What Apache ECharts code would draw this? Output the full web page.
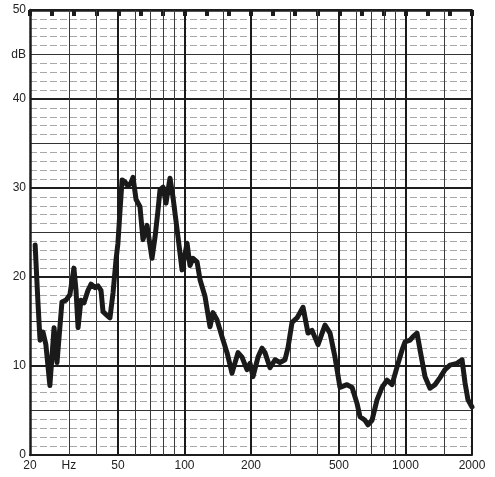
<!DOCTYPE html>
<html>
<head>
<meta charset="utf-8">
<script src="https://cdn.jsdelivr.net/npm/echarts@6/dist/echarts.min.js"></script>
<style>
  html, body { margin: 0; padding: 0; background: #fff; }
  #chart { width: 495px; height: 477px; }
</style>
</head>
<body>
<div id="chart"></div>
<script>
// Frequency (Hz) of each traced point of the response curve
const freqHz = [
  21.1, 21.7, 22.2, 22.9, 23.6, 24.6, 25.7, 26.5, 27.9, 29.1,
  30.3, 31.6, 32.3, 33.0, 34.0, 35.1, 36.6, 37.8, 39.4, 40.6,
  41.9, 42.8, 44.6, 46.0, 47.5, 49.0, 50.0, 51.1, 52.2, 53.8,
  55.5, 57.3, 58.5, 60.4, 62.9, 64.9, 67.7, 71.3, 73.6, 75.9,
  77.5, 80.0, 82.5, 86.0, 88.7, 93.5, 97.5, 102.7, 105.9, 109.3,
  114.0, 117.6, 123.9, 130.5, 134.6, 140.3, 147.8, 155.8, 164.1, 174.7,
  182.1, 191.8, 198, 204.2, 215.2, 224.3, 231.4, 243.8, 257, 270.4,
  285, 294.2, 306.7, 323, 343.9, 362.2, 377.6, 402, 432.4, 455.6,
  479.8, 505.3, 543.8, 573, 603.6, 622.7, 656, 676.8, 705.5, 743.4,
  783.3, 825.3, 869.5, 916, 965.3, 995.6, 1049, 1082, 1128, 1164,
  1226, 1291, 1360, 1433, 1510, 1590, 1711, 1803, 1860, 1918, 2000
];
// Level (dB) at each of those frequencies
const levelDb = [
  23.6, 17.4, 12.9, 13.8, 12.4, 7.8, 14.3, 10.4, 17.2, 17.4,
  18.0, 21.0, 18.5, 14.3, 17.4, 17.1, 18.5, 19.2, 18.8, 19.0,
  18.5, 16.1, 15.7, 15.4, 18.2, 21.9, 23.8, 27.5, 30.9, 30.7,
  30.2, 30.6, 31.2, 28.7, 27.9, 24.2, 25.8, 22.1, 24.5, 27.5,
  29.8, 30.1, 28.3, 31.1, 29.0, 24.5, 20.8, 23.8, 21.3, 22.1,
  21.7, 19.7, 17.8, 14.4, 16.0, 15.2, 13.3, 11.5, 9.2, 11.5,
  11.0, 9.6, 10.3, 8.8, 11.0, 12.0, 11.5, 9.8, 10.7, 10.4,
  10.7, 12.1, 14.9, 15.4, 16.6, 13.7, 14.0, 12.4, 14.6, 13.7,
  11.0, 7.6, 7.9, 7.6, 5.8, 4.3, 3.9, 3.4, 3.9, 6.2,
  7.6, 8.4, 7.9, 9.9, 11.8, 12.7, 12.9, 13.3, 13.7, 11.8,
  8.8, 7.5, 7.9, 8.7, 9.6, 10.1, 10.3, 10.7, 8.1, 6.2, 5.4
];
// Vertical chart-paper lines (Hz)
const gridLinesHz = [30, 40, 50, 60, 70, 80, 90, 100, 150, 200, 300, 400, 500, 600, 700, 800, 900, 1000, 1500, 2000];
const heavyLinesHz = [50, 100, 200, 500, 1000, 2000];
// X tick labels (Hz value -> text)
const xTickValues = [20, 30, 50, 100, 200, 500, 1000, 2000];
const xTickTexts  = ['20', 'Hz', '50', '100', '200', '500', '1000', '2000'];
// Y tick labels
const yMin = 0, yMax = 50;
const yLabelText = { 0: '0', 10: '10', 20: '20', 30: '30', 40: '40', 45: 'dB', 50: '50' };
// Paper marks along the top edge (tenth-decade divisions)
const topMarkDivisions = 20;

const FONT = 'Liberation Sans, Arial, sans-serif';
const INK = '#1c1c1c';

const markLineData = [];
gridLinesHz.forEach(function (f) {
  const heavy = heavyLinesHz.indexOf(f) >= 0;
  const li = xTickValues.indexOf(f);
  markLineData.push({
    xAxis: f,
    lineStyle: { color: heavy ? '#1a1a1a' : '#3a3a3a', width: heavy ? 2 : 1, type: 'solid' },
    label: li >= 0 ? { show: true, formatter: xTickTexts[li] } : { show: false }
  });
});
xTickValues.forEach(function (f, i) {
  if (gridLinesHz.indexOf(f) < 0) {
    markLineData.push({
      xAxis: f,
      lineStyle: { color: 'rgba(0,0,0,0)', width: 1 },
      label: { show: true, formatter: xTickTexts[i], color: '#222' }
    });
  }
});

const chart = echarts.init(document.getElementById('chart'), null, { renderer: 'canvas' });
chart.setOption({
  backgroundColor: '#ffffff',
  animation: false,
  grid: { left: 30, right: 23, top: 10, bottom: 22, containLabel: false },
  xAxis: [
    {
      type: 'log', logBase: 10, min: 20, max: 2000,
      axisLine: { show: true, lineStyle: { color: INK, width: 2 } },
      axisTick: { show: false },
      axisLabel: { show: false },
      splitLine: { show: false }
    },
    {
      type: 'value', min: 0, max: topMarkDivisions, interval: 1, position: 'top',
      axisLine: { show: true, onZero: false, lineStyle: { color: INK, width: 2.5 } },
      axisTick: { show: true, inside: true, length: 6, lineStyle: { color: INK, width: 4 } },
      axisLabel: { show: false },
      splitLine: { show: false }
    }
  ],
  yAxis: [
    {
      type: 'value', min: yMin, max: yMax, interval: 5,
      axisLine: { show: true, lineStyle: { color: INK, width: 2.5 } },
      axisTick: { show: false },
      axisLabel: {
        show: true, margin: 4, color: '#222', fontFamily: FONT, fontSize: 12,
        formatter: function (v) { return yLabelText[v] !== undefined ? yLabelText[v] : ''; }
      },
      splitLine: { show: true, lineStyle: { color: '#333', width: 1 } },
      minorTick: { show: false, splitNumber: 5 },
      minorSplitLine: { show: true, lineStyle: { color: '#a8a8a8', width: 1, type: [7, 3] } }
    },
    {
      type: 'value', min: yMin, max: yMax, interval: 10, position: 'right',
      axisLine: { show: false }, axisTick: { show: false }, axisLabel: { show: false },
      splitLine: { show: true, lineStyle: { color: '#1e1e1e', width: 2 } }
    }
  ],
  series: [
    {
      type: 'line',
      xAxisIndex: 0, yAxisIndex: 0,
      z: 10,
      data: freqHz.map(function (f, i) { return [f, levelDb[i]]; }),
      symbol: 'none',
      smooth: false,
      lineStyle: { color: '#1a1a1a', width: 5, cap: 'round', join: 'round' },
      markLine: {
        silent: true, symbol: 'none', z: 1, animation: false,
        label: { position: 'start', distance: 5, color: '#222', fontFamily: FONT, fontSize: 12 },
        emphasis: { disabled: true },
        data: markLineData
      }
    }
  ]
});
</script>
</body>
</html>
